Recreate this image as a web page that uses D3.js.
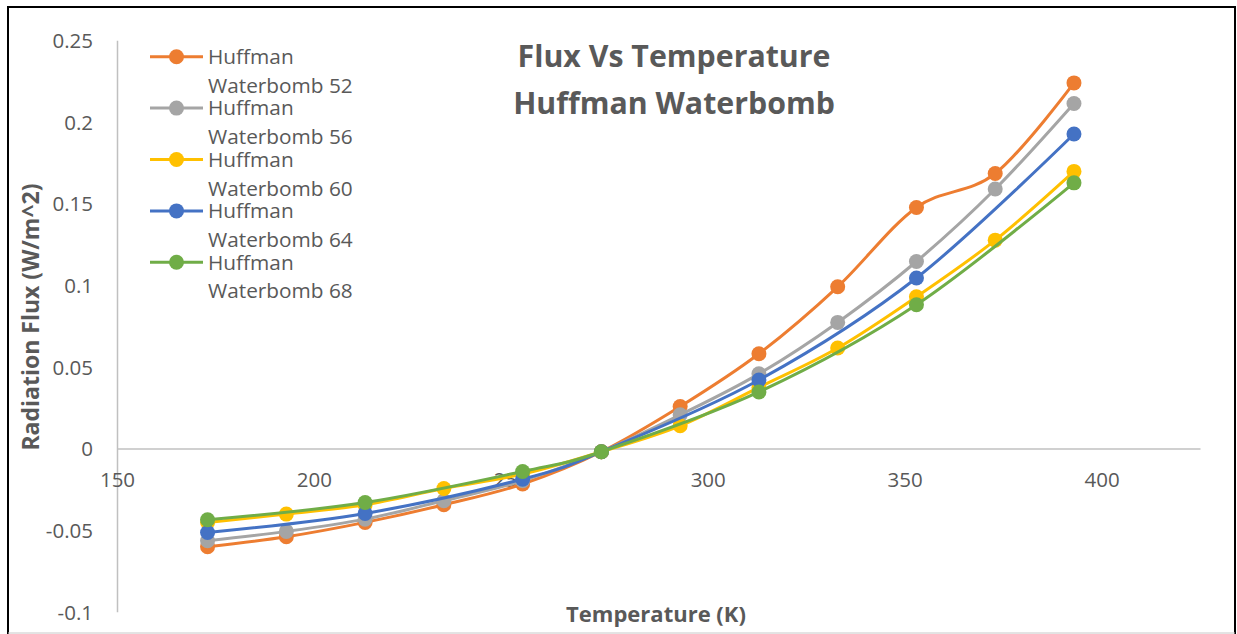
<!DOCTYPE html>
<html>
<head>
<meta charset="utf-8">
<script src="https://cdn.jsdelivr.net/npm/d3@7"></script>
<style>
  html, body { margin: 0; padding: 0; background: #ffffff; }
  svg { display: block; }
  text { font-family: "Open Sans", "Liberation Sans", sans-serif; fill: #595959; }
</style>
</head>
<body>
<svg id="chart" width="1237" height="634"></svg>
<script>
// Temperatures (K) at which the flux was sampled
const temperatures = [173, 193, 213, 233, 253, 273, 293, 313, 333, 353, 373, 393];

// Radiation flux (W/m^2) per fold count; null = not sampled at that temperature
const waterbomb52 = [-0.0602, -0.0541, -0.0453, -0.0345, -0.0218, -0.0020, 0.0257, 0.0580, 0.0990, 0.1476, 0.1684, 0.2239];
const waterbomb56 = [-0.0565, -0.0508, -0.0433, -0.0320, -0.0198, -0.0020, 0.0206, 0.0457, 0.0772, 0.1145, 0.1589, 0.2113];
const waterbomb60 = [-0.0453, -0.0402, -0.0345, -0.0245, -0.0157, -0.0020, 0.0139, 0.0374, 0.0615, 0.0929, 0.1276, 0.1697];
const waterbomb64 = [-0.0515, null, -0.0398, null, -0.0188, -0.0020, null, 0.0419, null, 0.1044, null, 0.1926];
const waterbomb68 = [-0.0437, null, -0.0331, null, -0.0141, -0.0020, null, 0.0346, null, 0.0880, null, 0.1627];

const seriesNames = ["Huffman Waterbomb 52", "Huffman Waterbomb 56", "Huffman Waterbomb 60", "Huffman Waterbomb 64", "Huffman Waterbomb 68"];
const seriesValues = [waterbomb52, waterbomb56, waterbomb60, waterbomb64, waterbomb68];
const seriesColors = ["#ED7D31", "#A5A5A5", "#FFC000", "#4472C4", "#70AD47"];

// Axis ticks
const xTickValues = [150, 200, 250, 300, 350, 400];
const yTickValues = [-0.1, -0.05, 0, 0.05, 0.1, 0.15, 0.2, 0.25];
const yTickLabels = ["-0.1", "-0.05", "0", "0.05", "0.1", "0.15", "0.2", "0.25"];

const titleLines = ["Flux Vs Temperature", "Huffman Waterbomb"];
const xTitle = "Temperature (K)";
const yTitle = "Radiation Flux (W/m^2)";

const svg = d3.select("#chart");

// Chart frame
const frame = svg.append("g");
frame.append("rect").attr("x", 0).attr("y", 0).attr("width", 1237).attr("height", 634).attr("fill", "#ffffff");
frame.append("path")
  .attr("d", "M8,634 L8,7 L1235,7 L1235,634")
  .attr("fill", "none").attr("stroke", "#000000").attr("stroke-width", 2);
frame.append("line").attr("x1", 8).attr("x2", 1235).attr("y1", 633).attr("y2", 633)
  .attr("stroke", "#c8c8c8").attr("stroke-width", 1);

const x = d3.scaleLinear().domain([150, 425]).range([117, 1200]);
const y = d3.scaleLinear().domain([-0.1, 0.25]).range([611.7, 40.3]);

const axisColor = "#c0c0c0";
const tickFont = "20.5px";

// Y axis (vertical line at x = 150 with labels on the left)
const yAxis = svg.append("g")
  .attr("transform", `translate(${x(150)},0)`)
  .call(d3.axisLeft(y).tickValues(yTickValues).tickSize(0).tickSizeOuter(0)
    .tickFormat((d, i) => yTickLabels[i]));
yAxis.select(".domain").attr("stroke", axisColor).attr("stroke-width", 1.5);
yAxis.selectAll("text")
  .attr("x", -24).attr("dy", null).attr("y", 7.3)
  .style("font-size", tickFont).style("font-family", "'Open Sans', sans-serif")
  .attr("fill", "#595959").attr("text-anchor", "end");

// X axis crosses at flux = 0
const xAxis = svg.append("g")
  .attr("transform", `translate(0,${y(0)})`)
  .call(d3.axisBottom(x).tickValues(xTickValues).tickSize(0).tickSizeOuter(0)
    .tickFormat(d3.format("d")));
xAxis.select(".domain").attr("stroke", axisColor).attr("stroke-width", 1.5);
xAxis.selectAll("text")
  .attr("dy", null).attr("y", 39)
  .style("font-size", tickFont).style("font-family", "'Open Sans', sans-serif")
  .attr("fill", "#595959");

// Series: smoothed line, then markers, drawn series by series
const line = d3.line()
  .x(d => x(d.t))
  .y(d => y(d.v))
  .curve(d3.curveCardinal.tension(0));

seriesValues.forEach((vals, i) => {
  const pts = temperatures.map((t, k) => ({ t, v: vals[k] })).filter(d => d.v !== null);
  const g = svg.append("g").attr("class", "series");
  g.append("path")
    .datum(pts)
    .attr("d", line)
    .attr("fill", "none")
    .attr("stroke", seriesColors[i])
    .attr("stroke-width", 3)
    .attr("stroke-linejoin", "round")
    .attr("stroke-linecap", "round");
  g.selectAll("circle")
    .data(pts)
    .join("circle")
    .attr("cx", d => x(d.t))
    .attr("cy", d => y(d.v))
    .attr("r", 7.5)
    .attr("fill", seriesColors[i]);
});

// Legend: each entry wraps its name onto two lines
const legend = svg.append("g").attr("transform", "translate(150,56.7)");
seriesNames.forEach((name, i) => {
  const row = legend.append("g").attr("transform", `translate(0,${i * 51.4})`);
  row.append("line").attr("x1", 0).attr("x2", 53).attr("y1", 0).attr("y2", 0)
    .attr("stroke", seriesColors[i]).attr("stroke-width", 3);
  row.append("circle").attr("cx", 26.5).attr("cy", 0).attr("r", 7.5).attr("fill", seriesColors[i]);
  const cut = name.indexOf(" ");
  const parts = [name.slice(0, cut), name.slice(cut + 1)];
  parts.forEach((p, k) => {
    row.append("text")
      .attr("x", 58).attr("y", 7.3 + k * 28.7)
      .style("font-size", "20.8px")
      .text(p);
  });
});

// Title
const title = svg.append("g");
titleLines.forEach((t, k) => {
  title.append("text")
    .attr("x", 674).attr("y", 67 + k * 46.5)
    .attr("text-anchor", "middle")
    .style("font-size", "30.3px").style("font-weight", "bold")
    .text(t);
});

// Axis titles
svg.append("text")
  .attr("x", 656).attr("y", 622)
  .attr("text-anchor", "middle")
  .style("font-size", "22px").style("font-weight", "bold")
  .text(xTitle);

svg.append("text")
  .attr("transform", "translate(38.5,317) rotate(-90)")
  .attr("text-anchor", "middle")
  .style("font-size", "23px").style("font-weight", "bold")
  .text(yTitle);
</script>
</body>
</html>
